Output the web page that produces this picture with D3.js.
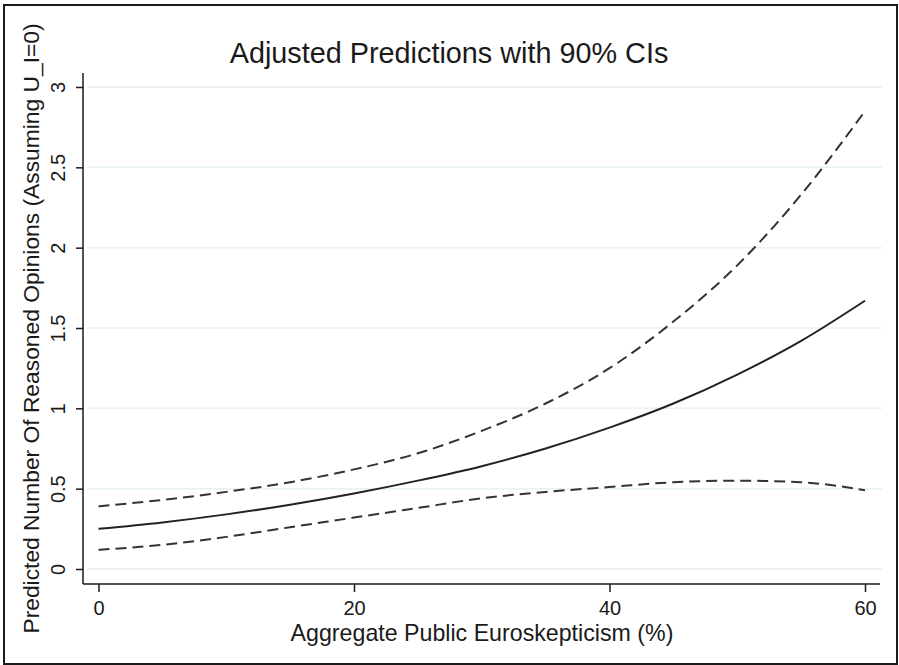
<!DOCTYPE html>
<html lang="en">
<head>
<meta charset="utf-8">
<title>Adjusted Predictions with 90% CIs</title>
<script src="https://cdnjs.cloudflare.com/ajax/libs/d3/7.8.5/d3.min.js"></script>
<style>
  body { margin: 0; background: #fff; }
  svg text { font-family: "Liberation Sans", Arial, sans-serif; fill: #1a1a1a; }
</style>
</head>
<body>
<div id="chart"></div>
<script>
// euroskepticism values (x)
const euro = [0, 5, 10, 15, 20, 25, 30, 35, 40, 45, 50, 55, 60];
// predicted number of reasoned opinions
const predicted = [0.25, 0.29, 0.34, 0.40, 0.47, 0.55, 0.64, 0.75, 0.88, 1.03, 1.21, 1.42, 1.67];
// 90% CI bounds
const upper = [0.39, 0.43, 0.48, 0.54, 0.62, 0.72, 0.86, 1.03, 1.25, 1.54, 1.89, 2.33, 2.85];
const lower = [0.12, 0.15, 0.20, 0.26, 0.32, 0.38, 0.44, 0.48, 0.51, 0.54, 0.55, 0.54, 0.49];

const xTicks = [0, 20, 40, 60];
const yTicks = [0, 0.5, 1, 1.5, 2, 2.5, 3];

const w = 899, h = 665;

const svg = d3.select('#chart').append('svg')
  .attr('width', w)
  .attr('height', h);

// outer frame
svg.append('rect')
  .attr('x', 4).attr('y', 5)
  .attr('width', 893).attr('height', 659)
  .attr('fill', 'none')
  .attr('stroke', '#1a1a1a')
  .attr('stroke-width', 2);

const x = d3.scaleLinear().domain([0, 60]).range([98.5, 865]);
const y = d3.scaleLinear().domain([0, 3]).range([569, 87]);

const axisLeftX = 83, axisBottomY = 584;

// grid lines
svg.append('g')
  .selectAll('line')
  .data(yTicks)
  .enter()
  .append('line')
  .attr('x1', axisLeftX + 4)
  .attr('x2', x.range()[1] + 17)
  .attr('y1', d => y(d))
  .attr('y2', d => y(d))
  .attr('stroke', '#e8f1f3')
  .attr('stroke-width', 1.5);

// y axis
const yAxis = d3.axisLeft(y)
  .tickValues(yTicks)
  .tickSize(7)
  .tickFormat(d => d3.format('~g')(d));
const gy = svg.append('g')
  .attr('transform', 'translate(' + axisLeftX + ',0)')
  .call(yAxis);
gy.select('.domain').remove();
gy.selectAll('.tick line').attr('stroke', '#1a1a1a').attr('stroke-width', 1.5);
gy.selectAll('.tick text')
  .attr('x', null).attr('dy', null)
  .attr('transform', 'translate(-18,0) rotate(-90)')
  .attr('text-anchor', 'middle')
  .style('font-size', '20px');

svg.append('line')
  .attr('x1', axisLeftX).attr('x2', axisLeftX)
  .attr('y1', y.range()[1] - 14).attr('y2', axisBottomY)
  .attr('stroke', '#1a1a1a').attr('stroke-width', 1.5);

// x axis
const xAxis = d3.axisBottom(x)
  .tickValues(xTicks)
  .tickSize(8)
  .tickFormat(d3.format('d'));
const gx = svg.append('g')
  .attr('transform', 'translate(0,' + axisBottomY + ')')
  .call(xAxis);
gx.select('.domain').remove();
gx.selectAll('.tick line').attr('stroke', '#1a1a1a').attr('stroke-width', 1.5);
gx.selectAll('.tick text')
  .attr('y', 31).attr('dy', null)
  .style('font-size', '20px');

svg.append('line')
  .attr('x1', axisLeftX).attr('x2', x.range()[1] + 15)
  .attr('y1', axisBottomY).attr('y2', axisBottomY)
  .attr('stroke', '#1a1a1a').attr('stroke-width', 1.5);

// lines
const line = vals => d3.line()
  .x((d, i) => x(euro[i]))
  .y(d => y(d))
  .curve(d3.curveMonotoneX)(vals);

svg.append('path')
  .attr('d', line(upper))
  .attr('fill', 'none')
  .attr('stroke', '#333')
  .attr('stroke-width', 2)
  .attr('stroke-dasharray', '11,6');

svg.append('path')
  .attr('d', line(lower))
  .attr('fill', 'none')
  .attr('stroke', '#333')
  .attr('stroke-width', 2)
  .attr('stroke-dasharray', '11,6');

svg.append('path')
  .attr('d', line(predicted))
  .attr('fill', 'none')
  .attr('stroke', '#222')
  .attr('stroke-width', 2);

// titles
svg.append('text')
  .attr('x', 449).attr('y', 63)
  .attr('text-anchor', 'middle')
  .style('font-size', '28.8px')
  .text('Adjusted Predictions with 90% CIs');

svg.append('text')
  .attr('x', 482).attr('y', 641)
  .attr('text-anchor', 'middle')
  .style('font-size', '23.2px')
  .text('Aggregate Public Euroskepticism (%)');

svg.append('text')
  .attr('transform', 'translate(38.5,' + ((axisBottomY + y.range()[1] - 14) / 2) + ') rotate(-90)')
  .attr('text-anchor', 'middle')
  .style('font-size', '22.8px')
  .text('Predicted Number Of Reasoned Opinions (Assuming U_I=0)');
</script>
</body>
</html>
